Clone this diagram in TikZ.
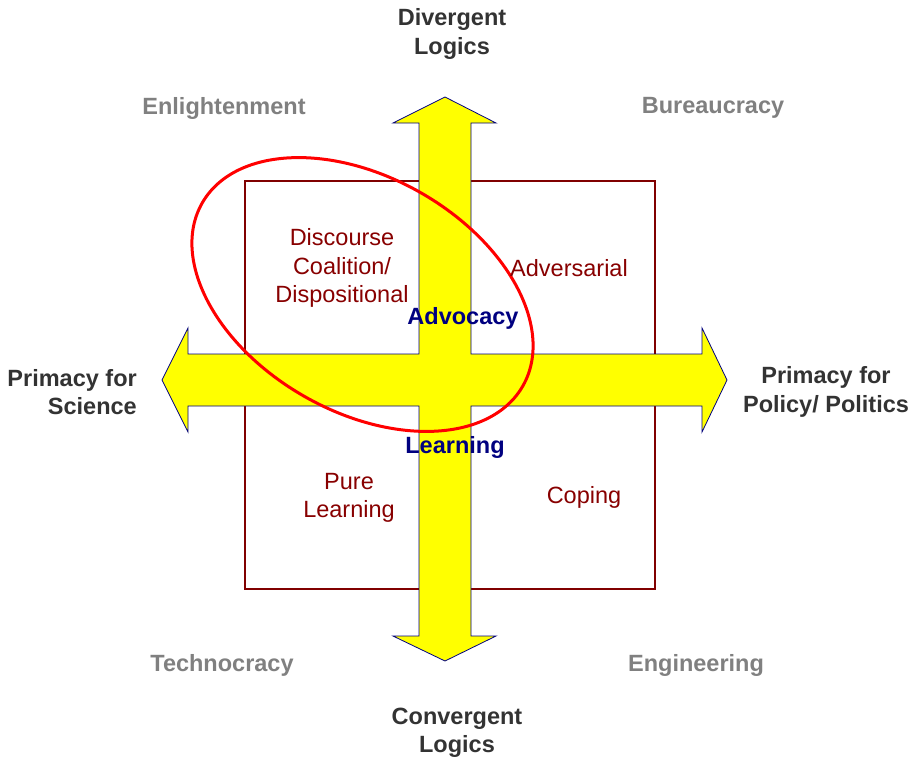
\documentclass[tikz,border=0pt]{standalone}
\usepackage{fontspec}
\setmainfont{Liberation Sans}
\definecolor{darklbl}{RGB}{51,51,51}
\definecolor{graylbl}{RGB}{128,128,128}
\definecolor{quadred}{RGB}{136,0,0}
\definecolor{boxred}{RGB}{128,0,0}
\definecolor{navyblue}{RGB}{0,0,128}
\definecolor{arrowyellow}{RGB}{255,255,0}
\begin{document}
\begin{tikzpicture}[x=1pt,y=-1pt,
  txt/.style={inner sep=0pt,align=center,font=\fontsize{23.5}{28.5}\selectfont},
  axislbl/.style={txt,text=darklbl,font=\fontsize{23.5}{28.5}\selectfont\bfseries},
  cornerlbl/.style={txt,text=graylbl,font=\fontsize{23.5}{28.5}\selectfont\bfseries},
  quadlbl/.style={txt,text=quadred},
  bluelbl/.style={txt,text=navyblue,font=\fontsize{23.5}{28.5}\selectfont\bfseries}]
\useasboundingbox[fill=white] (0,0) rectangle (917,758);
% quadrant frame
\draw[boxred,line width=1.2pt] (245,181) rectangle (655,589);
% four-way arrow
\draw[navyblue,line width=0.8pt,fill=arrowyellow,line join=miter]
  (445,97) -- (496,123) -- (471,123) -- (471,354) -- (702,354) -- (702,328)
  -- (727,380) -- (702,432) -- (702,406) -- (471,406) -- (471,636) -- (496,636)
  -- (445,661) -- (393,636) -- (419,636) -- (419,406) -- (188,406) -- (188,432)
  -- (162,380) -- (188,328) -- (188,354) -- (419,354) -- (419,123) -- (393,123) -- cycle;
% ellipse
\begin{scope}[shift={(362.5pt,-294.5pt)},rotate=-29.7]
\draw[red,line width=3pt] (0pt,0pt) ellipse [x radius=184.6pt, y radius=117.3pt];
\end{scope}
% labels
\node[axislbl] (div) at (452,34) {Divergent\\Logics};
\node[axislbl] (conv) at (457,733) {Convergent\\Logics};
\node[axislbl,align=right,anchor=east] (sci) at (137,392) {Primacy for\\Science};
\node[axislbl] (pol) at (826,392) {Primacy for\\Policy/ Politics};
\node[cornerlbl] (enl) at (224,108) {Enlightenment};
\node[cornerlbl] (bur) at (713,108) {Bureaucracy};
\node[cornerlbl] (tec) at (222,665) {Technocracy};
\node[cornerlbl] (eng) at (696,665) {Engineering};
\node[quadlbl] (dis) at (342,268) {Discourse\\Coalition/\\Dispositional};
\node[quadlbl] (adv) at (569,268) {Adversarial};
\node[quadlbl] (pure) at (349,498) {Pure\\Learning};
\node[quadlbl] (cop) at (584,497) {Coping};
\node[bluelbl] (advo) at (463,318) {Advocacy};
\node[bluelbl] (lea) at (455,447) {Learning};
\end{tikzpicture}
\end{document}
